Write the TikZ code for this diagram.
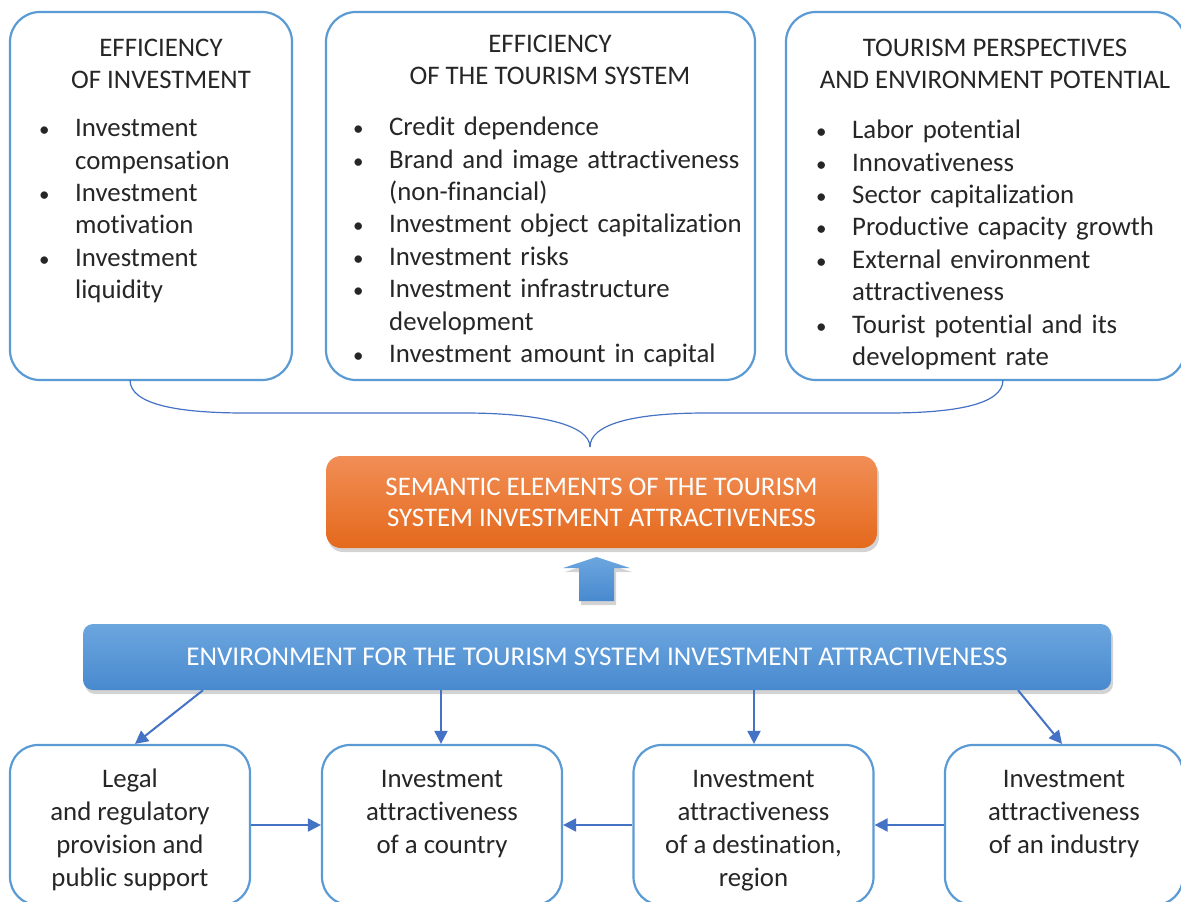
\documentclass[tikz,border=0pt]{standalone}
\usepackage{fontspec}
\setmainfont{Carlito}[Ligatures=CommonOff]
\usetikzlibrary{arrows.meta,shadows}
\definecolor{bord}{HTML}{5B9BD5}
\definecolor{arrc}{HTML}{4472C4}
\definecolor{txt}{HTML}{262626}
\definecolor{orT}{HTML}{F18E56}
\definecolor{orB}{HTML}{E4691C}
\definecolor{blT}{HTML}{6CA6DF}
\definecolor{blB}{HTML}{4889CE}
\newcommand{\fs}{\rule{0pt}{22pt}}
\newcommand{\nl}{\hfil\break}
\newcommand{\bi}[1]{\hangindent=33pt\hangafter=1\rightskip=0pt plus 1fil\noindent\makebox[33pt][l]{\hspace{-3pt}{\fontsize{21}{21}\selectfont\textbullet}}\fs#1\par}
\tikzset{
  wbox/.style={draw=bord,line width=2.2pt,rounded corners=30pt,fill=white,inner sep=0pt},
  bbox/.style={draw=bord,line width=2.2pt,rounded corners=28pt,fill=white,inner sep=0pt,minimum width=240pt,minimum height=160pt},
  lst/.style={anchor=north west,inner sep=0pt,text width=420pt,align=left,text=txt,font=\fontsize{26.8}{32.4}\selectfont},
  ttl/.style={anchor=north,inner sep=0pt,align=center,text=txt,font=\fontsize{26.8}{32.4}\selectfont},
  arr/.style={draw=arrc,line width=2pt,-{Triangle[length=13pt,width=13pt]}},
  brc/.style={draw=arrc,line width=1.2pt},
  shd/.style={drop shadow={opacity=0.35,shadow xshift=2pt,shadow yshift=-4pt}}
}
\begin{document}
\begin{tikzpicture}[x=1pt,y=-1pt]
\useasboundingbox (0,0) rectangle (1181,902);
\clip (0,0) rectangle (1181,902);
% top boxes
\node[wbox,minimum width=282pt,minimum height=368pt] (t1) at (151,196) {};
\node[wbox,minimum width=429pt,minimum height=368pt] (t2) at (540.5,196) {};
\node[wbox,minimum width=399pt,minimum height=368pt] (t3) at (985.5,196) {};
\node[ttl] (h1) at (161,34) {\fs EFFICIENCY\\OF INVESTMENT};
\node[ttl] (h2) at (550,30) {\fs EFFICIENCY\\OF THE TOURISM SYSTEM};
\node[ttl] (h3) at (995,34) {\fs TOURISM PERSPECTIVES\\AND ENVIRONMENT POTENTIAL};
\node[lst] (l1) at (42,114.5) {\bi{Investment\nl compensation}\bi{Investment\nl motivation}\bi{Investment\nl liquidity}};
\node[lst] (l2) at (356,113.5) {\bi{Credit dependence}\bi{Brand and image attractiveness\nl (non-financial)}\bi{Investment object capitalization}\bi{Investment risks}\bi{Investment infrastructure\nl development}\bi{Investment amount in capital}};
\node[lst] (l3) at (819,116.5) {\bi{Labor potential}\bi{Innovativeness}\bi{Sector capitalization}\bi{Productive capacity growth}\bi{External environment\nl attractiveness}\bi{Tourist potential and its\nl development rate}};
% brace
\coordinate (bl) at (130,380);
\coordinate (br) at (1003,380);
\coordinate (tip) at (590,447);
\draw[brc] (bl) .. controls (130,405) and (180,413) .. (245,413) -- (464,413) .. controls (540,413) and (590,425) .. (tip);
\draw[brc] (br) .. controls (1003,405) and (953,413) .. (888,413) -- (706,413) .. controls (630,413) and (590,425) .. (tip);
% orange box
\node[shd,rounded corners=15pt,minimum width=551pt,minimum height=92pt,top color=orT,bottom color=orB,text=white,align=center,inner sep=0pt,font=\fontsize{26.8}{31}\selectfont] (sem) at (601.5,502) {SEMANTIC ELEMENTS OF THE TOURISM\\SYSTEM INVESTMENT ATTRACTIVENESS};
% up arrow
\path[shd,top color=blT,bottom color=blB] (579,601) -- (579,568) -- (563,568) -- (596.5,557) -- (630,568) -- (614,568) -- (614,601) -- cycle;
% blue bar
\node[shd,rounded corners=10pt,minimum width=1028pt,minimum height=66pt,top color=blT,bottom color=blB,text=white,inner sep=0pt,font=\fontsize{27.1}{31}\selectfont] (env) at (597,657) {ENVIRONMENT FOR THE TOURISM SYSTEM INVESTMENT ATTRACTIVENESS};
% bottom boxes
\node[bbox] (b1) at (130,825) {};
\node[bbox] (b2) at (442,825) {};
\node[bbox] (b3) at (753.5,825) {};
\node[bbox,minimum width=238pt] (b4) at (1064,825) {};
\node[ttl,font=\fontsize{26.8}{33}\selectfont] (c1) at (130,765) {\fs Legal\\and regulatory\\provision and\\public support};
\node[ttl,font=\fontsize{26.8}{33}\selectfont] (c2) at (442,765) {\fs Investment\\attractiveness\\of a country};
\node[ttl,font=\fontsize{26.8}{33}\selectfont] (c3) at (753.5,765) {\fs Investment\\attractiveness\\of a destination,\\region};
\node[ttl,font=\fontsize{26.8}{33}\selectfont] (c4) at (1064,765) {\fs Investment\\attractiveness\\of an industry};
% arrows
\draw[arr] ([xshift=-394pt]env.south) -- ([xshift=5pt]b1.north);
\draw[arr] ([xshift=-156pt]env.south) -- ([xshift=-1pt]b2.north);
\draw[arr] ([xshift=157pt]env.south) -- ([xshift=0.5pt]b3.north);
\draw[arr] ([xshift=421pt]env.south) -- ([xshift=-2pt]b4.north);
\draw[arr] (b1.east) -- (b2.west);
\draw[arr] (b3.west) -- (b2.east);
\draw[arr] (b4.west) -- (b3.east);
\end{tikzpicture}
\end{document}
